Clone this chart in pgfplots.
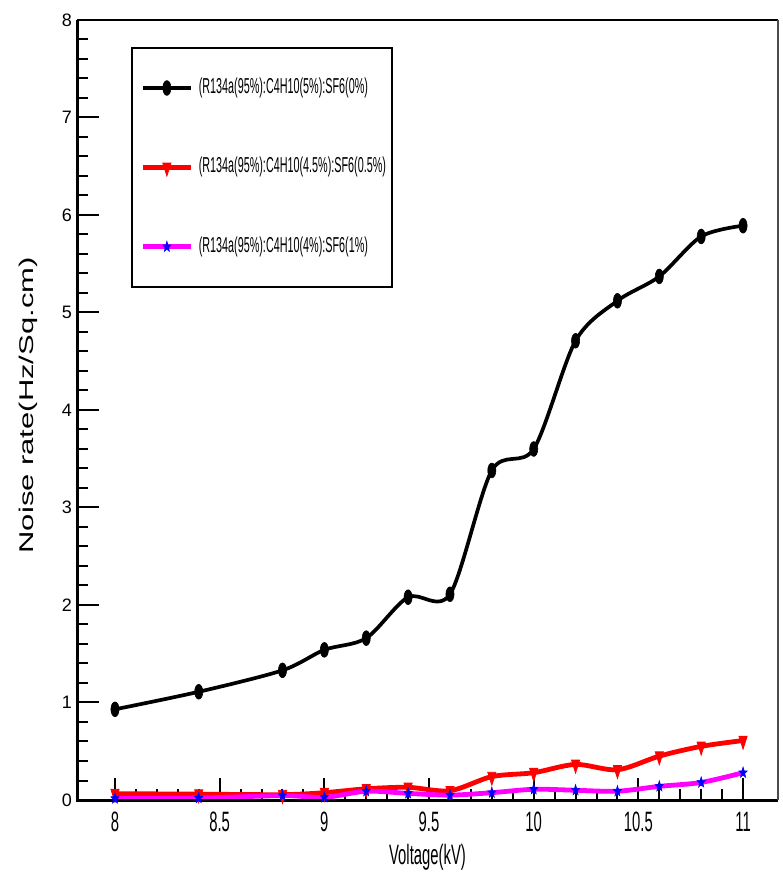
\documentclass[border=0pt]{standalone}
\usepackage{graphicx}
\usepackage{pgfplots}
\pgfplotsset{compat=1.18}
\usepackage{pgfplotstable}
\usepackage{fontspec}
\setmainfont{Liberation Sans}
\newfontfamily\condfont{Liberation Sans}[FakeStretch=0.53]
\newfontfamily\legfont{Liberation Sans}[FakeStretch=0.5]
\definecolor{pmag}{RGB}{255,0,255}

% filled five-pointed star
\pgfdeclareplotmark{fivestar}{%
  \pgfpathmoveto{\pgfpointpolar{90}{\pgfplotmarksize}}%
  \pgfpathlineto{\pgfpointpolar{126}{0.42\pgfplotmarksize}}%
  \pgfpathlineto{\pgfpointpolar{162}{\pgfplotmarksize}}%
  \pgfpathlineto{\pgfpointpolar{198}{0.42\pgfplotmarksize}}%
  \pgfpathlineto{\pgfpointpolar{234}{\pgfplotmarksize}}%
  \pgfpathlineto{\pgfpointpolar{270}{0.42\pgfplotmarksize}}%
  \pgfpathlineto{\pgfpointpolar{306}{\pgfplotmarksize}}%
  \pgfpathlineto{\pgfpointpolar{342}{0.42\pgfplotmarksize}}%
  \pgfpathlineto{\pgfpointpolar{18}{\pgfplotmarksize}}%
  \pgfpathlineto{\pgfpointpolar{54}{0.42\pgfplotmarksize}}%
  \pgfpathclose
  \pgfusepathqfillstroke}

% SF6 0%
\pgfplotstableread{
x     y
8.0   0.93
8.4   1.11
8.8   1.33
9.0   1.54
9.2   1.66
9.4   2.08
9.6   2.11
9.8   3.38
10.0  3.60
10.2  4.71
10.4  5.12
10.6  5.37
10.8  5.78
11.0  5.89
}\blackdata

% SF6 0.5%
\pgfplotstableread{
x     y      e
8.0   0.065  0.035
8.4   0.060  0.035
8.8   0.055  0.035
9.0   0.075  0.035
9.2   0.115  0.035
9.4   0.130  0.035
9.6   0.095  0.035
9.8   0.240  0.035
10.0  0.280  0.035
10.2  0.365  0.035
10.4  0.310  0.035
10.6  0.450  0.035
10.8  0.550  0.035
11.0  0.610  0.035
}\reddata

% SF6 1%
\pgfplotstableread{
x     y      e
8.0   0.015  0.035
8.4   0.020  0.035
8.8   0.045  0.035
9.0   0.027  0.035
9.2   0.090  0.035
9.4   0.068  0.035
9.6   0.050  0.035
9.8   0.075  0.035
10.0  0.110  0.035
10.2  0.100  0.035
10.4  0.090  0.035
10.6  0.140  0.035
10.8  0.180  0.035
11.0  0.280  0.035
}\magdata

\begin{document}
\begin{tikzpicture}
\begin{axis}[
  scale only axis, width=350.5pt, height=390pt,
  xmin=7.8185, xmax=11.167, ymin=0, ymax=8,
  xtick={8,8.5,...,11}, ytick={0,1,...,8},
  minor x tick num=4, minor y tick num=4,
  tick align=inside, xtick pos=left, ytick pos=left,
  major tick length=11pt, minor tick length=5.5pt,
  every tick/.style={black, line width=1pt},
  axis line style={draw=none},
  clip=false,
  /pgf/number format/assume math mode=true,
  xticklabel style={font=\condfont\fontsize{14}{16}\selectfont, anchor=center, yshift=-11pt},
  yticklabel style={font=\fontsize{9}{10}\selectfont, xshift=1pt},
  xlabel={Voltage(kV)},
  every axis x label/.style={at={(axis description cs:0.5,0)}, anchor=center, yshift=-28.5pt,
    font=\condfont\fontsize{14}{16}\selectfont},
  ylabel={\scalebox{1}[0.64]{\fontsize{15.5}{18}\selectfont Noise rate(Hz/Sq.cm)}},
  every axis y label/.style={at={(axis description cs:-0.07,0.506)}, rotate=90, anchor=center},
  legend style={at={(rel axis cs:0.077,0.965)}, anchor=north west, draw=black, line width=1pt,
    fill=white, inner xsep=4.5pt, inner ysep=15pt, row sep=30pt, column sep=3pt,
    font=\legfont\fontsize{10.8}{12}\selectfont,
    nodes={inner sep=0pt, text height=7.5pt, text depth=2.2pt, text width=92pt, align=left}},
  legend cell align=left,
  legend image code/.code={\draw[mark repeat=2,mark phase=2] plot coordinates {(0pt,0pt) (11.75pt,0pt) (23.5pt,0pt)};},
]
\addplot[black, line width=1.85pt, smooth, mark=*, mark size=3.7pt,
  mark options={xscale=0.55, line width=0.3pt, solid}] table[x=x, y=y] {\blackdata};
\addlegendentry{(R134a(95\%):C4H10(5\%):SF6(0\%)}

\addplot[red, line width=2.4pt, smooth, mark=triangle*, mark size=4.3pt,
  mark options={rotate=180, xscale=0.55, line width=0.4pt, solid},
  error bars/.cd, y dir=both, y explicit, error mark=none,
  error bar style={red, line width=0.8pt}] table[x=x, y=y, y error=e] {\reddata};
\addlegendentry{(R134a(95\%):C4H10(4.5\%):SF6(0.5\%)}

\addplot[pmag, line width=2.4pt, smooth, mark=fivestar, mark size=2.8pt,
  mark options={fill=blue, draw=blue, xscale=0.76, line width=0.3pt, solid},
  error bars/.cd, y dir=both, y explicit, error mark=none,
  error bar style={blue, line width=0.8pt}] table[x=x, y=y, y error=e] {\magdata};
\addlegendentry{(R134a(95\%):C4H10(4\%):SF6(1\%)}

% frame
\draw[line width=1.5pt, black] (rel axis cs:0,1) -- (rel axis cs:0,0) -- (rel axis cs:1,0);
\draw[line width=1.3pt, black] (rel axis cs:0,1) -- (rel axis cs:1,1);
\draw[line width=1pt, black!70] (rel axis cs:1,1) -- (rel axis cs:1,0);
\end{axis}
\pgfresetboundingbox
\path ([shift={(-38.5pt,-36pt)}]current axis.south west) rectangle ([shift={(2pt,10pt)}]current axis.north east);
\end{tikzpicture}
\end{document}
